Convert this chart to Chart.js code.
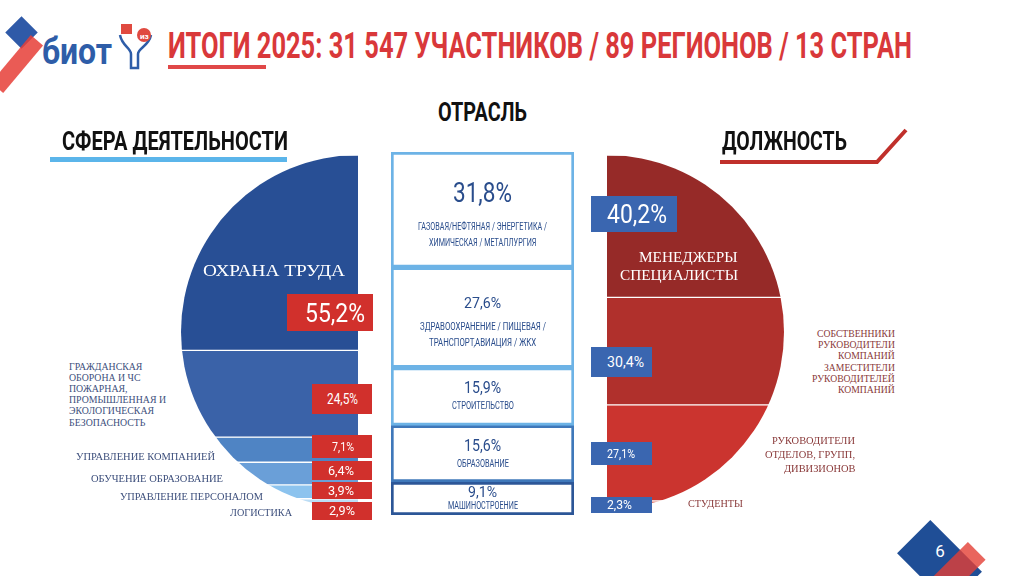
<!DOCTYPE html>
<html><head><meta charset="utf-8">
<script src="https://cdn.jsdelivr.net/npm/chart.js@4.4.1/dist/chart.umd.min.js"></script>
<style>
html,body{margin:0;padding:0;background:#fff;}
#stage{position:relative;width:1024px;height:576px;overflow:hidden;background:#fff;}
.t{position:absolute;white-space:nowrap;line-height:1;transform-origin:0 50%;}
.abs{position:absolute;}
canvas{position:absolute;}
</style></head>
<body><div id="stage">
<div class="abs" style="left:10px;top:21px;width:23px;height:23px;background:#2F5AA8;transform:rotate(45deg)"></div>
<div class="abs" style="left:-14px;top:56px;width:62px;height:16px;background:rgba(230,62,55,0.85);transform:rotate(-50deg)"></div>
<svg class="abs" style="left:116px;top:22px" width="40" height="50" viewBox="0 0 40 50">
 <path d="M4 13 C6 24 15 26 15 32 L15 46 L22 46 L22 32 C22 26 33 24 35 13" fill="none" stroke="#2E5DA8" stroke-width="2.5"/>
 <rect x="5" y="2" width="11" height="10" fill="#E04A40"/>
 <circle cx="28" cy="13" r="7" fill="#E04A40"/>
 <text x="24" y="17" font-size="8" fill="#fff" font-family="Roboto" font-weight="bold">из</text>
</svg>
<div class="abs" style="left:168px;top:65px;width:98px;height:4px;background:#E04848"></div>
<div class="abs" style="left:50px;top:157px;width:237px;height:5px;background:#5BB5EA"></div>
<svg class="abs" style="left:0;top:0" width="1024" height="576">
 <polyline points="720,162 877,162 906,130" fill="none" stroke="#C0302B" stroke-width="4"/>
</svg>
<div class="abs" style="left:902.5px;top:538.5px;width:73px;height:47px;background:#1F4E96;transform:rotate(45deg)"></div>
<div class="abs" style="left:942.5px;top:542px;width:25px;height:60px;background:rgba(228,62,52,0.8);transform:rotate(45deg)"></div>
<canvas id="cLeft" width="180" height="354" style="left:178px;top:155px"></canvas>
<canvas id="cMid" width="183" height="363" style="left:391px;top:152px"></canvas>
<canvas id="cRight" width="180" height="354" style="left:607px;top:155px"></canvas>
</div>
<script>
// ---------- data ----------
const leftCategories = ['ОХРАНА ТРУДА', 'ГРАЖДАНСКАЯ\nОБОРОНА И ЧС\nПОЖАРНАЯ,\nПРОМЫШЛЕННАЯ И\nЭКОЛОГИЧЕСКАЯ\nБЕЗОПАСНОСТЬ', 'УПРАВЛЕНИЕ КОМПАНИЕЙ', 'ОБУЧЕНИЕ ОБРАЗОВАНИЕ', 'УПРАВЛЕНИЕ ПЕРСОНАЛОМ', 'ЛОГИСТИКА'];
const leftValues = [55.2, 24.5, 7.1, 6.4, 3.9, 2.9];
const midCategories = ['ГАЗОВАЯ/НЕФТЯНАЯ / ЭНЕРГЕТИКА /\nХИМИЧЕСКАЯ / МЕТАЛЛУРГИЯ', 'ЗДРАВООХРАНЕНИЕ / ПИЩЕВАЯ /\nТРАНСПОРТ,АВИАЦИЯ / ЖКХ', 'СТРОИТЕЛЬСТВО', 'ОБРАЗОВАНИЕ', 'МАШИНОСТРОЕНИЕ'];
const midValues = [31.8, 27.6, 15.9, 15.6, 9.1];
const rightCategories = ['МЕНЕДЖЕРЫ\nСПЕЦИАЛИСТЫ', 'СОБСТВЕННИКИ\nРУКОВОДИТЕЛИ\nКОМПАНИЙ\nЗАМЕСТИТЕЛИ\nРУКОВОДИТЕЛЕЙ\nКОМПАНИЙ', 'РУКОВОДИТЕЛИ\nОТДЕЛОВ, ГРУПП,\nДИВИЗИОНОВ', 'СТУДЕНТЫ'];
const rightValues = [40.2, 30.4, 27.1, 2.3];
const titleText = 'ИТОГИ 2025: 31 547 УЧАСТНИКОВ / 89 РЕГИОНОВ / 13 СТРАН';
const headers = ['СФЕРА ДЕЯТЕЛЬНОСТИ', 'ОТРАСЛЬ', 'ДОЛЖНОСТЬ'];
const logoText = 'биот';
const pageNumber = '6';

// ---------- styles ----------
const leftColors = ['#284F95', '#3A62A8', '#4F84C4', '#6A9FD8', '#8CC3EE', '#BCDDF5'];
const midBorders = ['#6DB3E6', '#6DB3E6', '#6DB3E6', '#3F78BA', '#2C5697'];
const rightColors = ['#962A28', '#B0302C', '#CB342F', '#E2786C'];
const COND = 'Roboto, "DejaVu Sans", sans-serif';
const SERIF = '"Liberation Serif", "DejaVu Serif", serif';

const stage = document.getElementById('stage');
const fmt = v => v.toFixed(1).replace('.', ',') + '%';

function measure(text, o) {
  const d = document.createElement('div');
  d.className = 't'; d.textContent = text;
  d.style.fontFamily = o.family; d.style.fontSize = o.size + 'px'; d.style.fontWeight = o.weight || 400;
  d.style.visibility = 'hidden';
  stage.appendChild(d);
  const w = d.getBoundingClientRect().width;
  stage.removeChild(d);
  return w;
}
function put(text, o) {
  const d = document.createElement('div');
  d.className = 't'; d.textContent = text;
  d.style.fontFamily = o.family; d.style.fontSize = o.size + 'px';
  d.style.fontWeight = o.weight || 400; d.style.color = o.color;
  stage.appendChild(d);
  const nat = d.getBoundingClientRect().width;
  const s = o.s != null ? o.s : (o.w ? o.w / nat : 1);
  const w = nat * s;
  const left = o.align === 'right' ? o.x - w : o.align === 'center' ? o.x - w / 2 : o.x;
  d.style.left = left + 'px'; d.style.top = o.y + 'px';
  d.style.transform = 'translateY(-50%) scaleX(' + s + ')';
  return d;
}
function putLines(text, o) {
  const lines = text.split('\n');
  const s = o.fitW / measure(lines[o.fitLine || 0], o);
  lines.forEach((ln, i) => put(ln, Object.assign({}, o, {s: s, w: null, y: o.y + i * (o.step || 0)})));
}
function box(o, color) {
  const d = document.createElement('div');
  d.className = 'abs';
  Object.assign(d.style, {left: o.x + 'px', top: o.y + 'px', width: o.w + 'px', height: o.h + 'px', background: color});
  stage.appendChild(d);
}

// ---------- charts ----------
function halfDisc(side) {
  return {
    id: 'halfDisc',
    beforeDatasetsDraw(chart) {
      const {ctx, chartArea: a} = chart;
      const r = (a.bottom - a.top) / 2, cy = (a.top + a.bottom) / 2;
      ctx.save(); ctx.beginPath();
      if (side === 'left') { ctx.moveTo(a.right, a.top); ctx.arc(a.right, cy, r, -Math.PI / 2, Math.PI / 2, true); }
      else { ctx.moveTo(a.left, a.top); ctx.arc(a.left, cy, r, -Math.PI / 2, Math.PI / 2, false); }
      ctx.closePath(); ctx.clip();
    },
    afterDatasetsDraw(chart) { chart.ctx.restore(); }
  };
}
function stackConfig(cats, vals, bg, border, bw, plugins) {
  return {
    type: 'bar',
    data: {
      labels: [''],
      datasets: vals.map((v, i) => ({
        label: cats[i].replace(/\n/g, ' '), data: [v],
        backgroundColor: bg[i], borderColor: border[i], borderWidth: bw, borderSkipped: false,
        barPercentage: 1, categoryPercentage: 1
      }))
    },
    options: {
      responsive: false, animation: false, events: [],
      layout: {padding: 0},
      plugins: {legend: {display: false}, tooltip: {enabled: false}},
      scales: {
        x: {display: false, stacked: true},
        y: {display: false, stacked: true, min: 0, max: 100, reverse: true}
      }
    },
    plugins: plugins
  };
}
const whiteSep = {top: 1, bottom: 1, left: 0, right: 0};
new Chart(document.getElementById('cLeft'), stackConfig(leftCategories, leftValues, leftColors, leftValues.map(() => '#fff'), whiteSep, [halfDisc('left')]));
const midCanvas = document.getElementById('cMid');
const midChart = new Chart(midCanvas, stackConfig(midCategories, midValues, midValues.map(() => '#fff'), midBorders, 3, []));
new Chart(document.getElementById('cRight'), stackConfig(rightCategories, rightValues, rightColors, rightValues.map(() => '#fff'), whiteSep, [halfDisc('right')]));

// ---------- texts ----------
put(titleText, {x: 168, y: 46, w: 744, size: 36, weight: 700, color: '#D9383A', family: COND});
put(logoText, {x: 42, y: 52, w: 70, size: 36, weight: 700, color: '#2E5DA8', family: COND});
put(headers[0], {x: 62, y: 141, w: 226, size: 26, weight: 700, color: '#111', family: COND});
put(headers[1], {x: 438, y: 112, w: 89, size: 26, weight: 700, color: '#111', family: COND});
put(headers[2], {x: 722, y: 141, w: 125, size: 26, weight: 700, color: '#111', family: COND});
put(pageNumber, {x: 940, y: 551, align: 'center', size: 17, color: '#fff', family: COND});

// left labels
const leftLabelLayout = [
  {x: 203, y: 271, step: 0, align: 'left', size: 17.5, color: '#fff', fitW: 142},
  {x: 69, y: 368, step: 11.1, align: 'left', size: 9.5, color: '#3D4F7C', fitLine: 3, fitW: 97},
  {x: 76, y: 457, align: 'left', size: 10, color: '#3D4F7C', fitW: 139},
  {x: 91, y: 479, align: 'left', size: 10, color: '#3D4F7C', fitW: 132},
  {x: 120, y: 497, align: 'left', size: 10, color: '#3D4F7C', fitW: 143},
  {x: 230, y: 513, align: 'left', size: 10, color: '#3D4F7C', fitW: 62}
];
const leftBoxLayout = [
  {x: 287, y: 294, w: 86, h: 37, tx: 305, tw: 60, size: 25},
  {x: 312, y: 384, w: 60, h: 30, tx: 327, tw: 31, size: 14},
  {x: 312, y: 435, w: 60, h: 23, tx: 332, tw: 22, size: 12},
  {x: 312, y: 461, w: 60, h: 19, tx: 328, tw: 26, size: 12},
  {x: 312, y: 482, w: 60, h: 17, tx: 328, tw: 26, size: 12},
  {x: 312, y: 502, w: 60, h: 18, tx: 329, tw: 26, size: 12}
];
leftCategories.forEach((c, i) => putLines(c, Object.assign({family: SERIF}, leftLabelLayout[i])));
leftValues.forEach((v, i) => {
  const b = leftBoxLayout[i];
  box(b, '#D1302C');
  put(fmt(v), {x: b.tx, y: b.y + b.h / 2, w: b.tw, size: b.size, color: '#fff', family: COND});
});

// middle labels: centred in each box as laid out by the chart
const midLayout = [
  {pOff: -17, psize: 28, pw: 59, sOff: 17, step: 16, fitW: 129, ssize: 10.5},
  {pOff: -15, psize: 15, pw: 37, sOff: 9, step: 16, fitW: 126, ssize: 10.5},
  {pOff: -8, psize: 16, pw: 37, sOff: 10, step: 0, fitW: 62, ssize: 10.5},
  {pOff: -8, psize: 16, pw: 37, sOff: 10, step: 0, fitW: 52, ssize: 10.5},
  {pOff: -6.5, psize: 14, pw: 29, sOff: 8, step: 0, fitW: 70, ssize: 10}
];
const midTop = parseFloat(midCanvas.style.top);
const midCx = parseFloat(midCanvas.style.left) + midChart.chartArea.left + (midChart.chartArea.right - midChart.chartArea.left) / 2;
midValues.forEach((v, i) => {
  const L = midLayout[i];
  const bar = midChart.getDatasetMeta(i).data[0];
  const cy = midTop + (bar.y + bar.base) / 2;
  put(fmt(v), {x: midCx, y: cy + L.pOff, w: L.pw, align: 'center', size: L.psize, color: '#2A4D8C', family: COND});
  putLines(midCategories[i], {x: midCx, y: cy + L.sOff, step: L.step, align: 'center', size: L.ssize, color: '#2A4D8C', family: COND, fitLine: 0, fitW: L.fitW});
});

// right labels
const rightLabelLayout = [
  {x: 738, y: 257, step: 18, align: 'right', size: 15, color: '#fff', fitLine: 1, fitW: 118},
  {x: 895, y: 334, step: 11.2, align: 'right', size: 10, color: '#8A3A3A', fitLine: 0, fitW: 78},
  {x: 855, y: 440, step: 13.9, align: 'right', size: 11, color: '#8A3A3A', fitLine: 1, fitW: 90},
  {x: 688, y: 503, step: 0, align: 'left', size: 11, color: '#8A3A3A', fitLine: 0, fitW: 55}
];
const rightBoxLayout = [
  {x: 591, y: 196, w: 86, h: 36, tx: 607, tw: 60, size: 25},
  {x: 591, y: 347, w: 61, h: 30, tx: 607, tw: 37, size: 14},
  {x: 591, y: 442, w: 61, h: 23, tx: 607, tw: 28, size: 12},
  {x: 591, y: 497, w: 61, h: 16, tx: 607, tw: 25, size: 12}
];
rightCategories.forEach((c, i) => putLines(c, Object.assign({family: SERIF}, rightLabelLayout[i])));
rightValues.forEach((v, i) => {
  const b = rightBoxLayout[i];
  box(b, '#3A66B0');
  put(fmt(v), {x: b.tx, y: b.y + b.h / 2, w: b.tw, size: b.size, color: '#fff', family: COND});
});
</script>
</body></html>
